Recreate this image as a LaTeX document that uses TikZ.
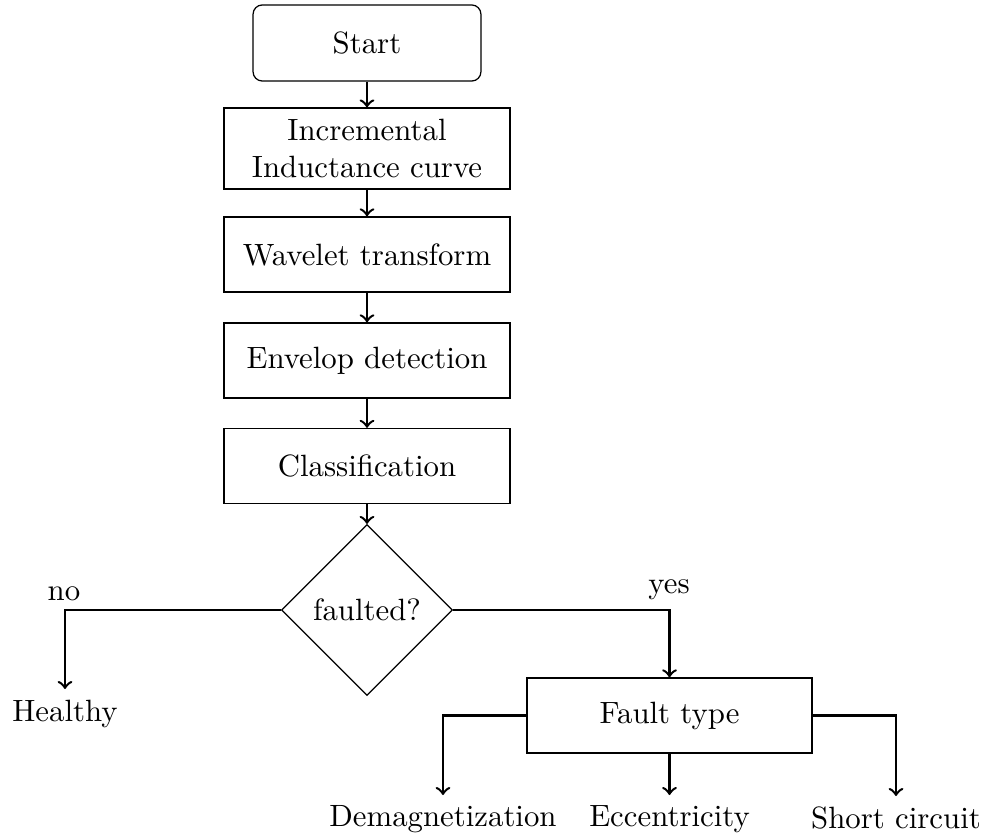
\documentclass[tikz,border=0pt]{standalone}
\usetikzlibrary{shapes.geometric}
\begin{document}
\begin{tikzpicture}[x=0.3247pt, y=-0.3247pt,
  procbox/.style={draw, line width=0.4pt, minimum width=92.9pt, minimum height=24.4pt, inner sep=2pt, align=center},
  startbox/.style={draw, line width=0.4pt, rounded corners=3pt, minimum width=74pt, minimum height=24.7pt},
  decision/.style={draw, line width=0.4pt, diamond, aspect=1, inner sep=0pt, minimum width=55.5pt, minimum height=55.5pt},
  outcome/.style={inner sep=3.33pt},
  flow/.style={->, line width=0.8pt},
  branchlabel/.style={inner sep=0pt}]
\useasboundingbox (0,0) rectangle (985,839);

\node[startbox] (start) at (367,43) {Start};
\node[procbox, minimum height=26.3pt] (incr) at (367,148.5) {Incremental\\Inductance curve};
\node[procbox] (wave) at (367,254.5) {Wavelet transform};
\node[procbox] (env) at (367,360.5) {Envelop detection};
\node[procbox] (cls) at (367,466) {Classification};
\node[decision] (dec) at (367,610) {faulted?};
\node[procbox, minimum width=92.5pt] (fault) at (669.5,715.5) {Fault type};

\node[outcome, anchor=north] (healthy) at (65,689) {Healthy};
\node[outcome, anchor=north] (demag) at (443,795) {Demagnetization};
\node[outcome, anchor=north] (ecc) at (669.5,795) {Eccentricity};
\node[outcome, anchor=north] (short) at (896,796) {Short circuit};

\coordinate (nocorner) at (65,610);
\coordinate (yescorner) at (669.5,610);
\node[branchlabel, anchor=base] (no) at (64,600) {no};
\node[branchlabel, anchor=base] (yes) at (669,593) {yes};

\draw[flow] (start) -- (incr);
\draw[flow] (incr) -- (wave);
\draw[flow] (wave) -- (env);
\draw[flow] (env) -- (cls);
\draw[flow] (cls) -- (dec);
\draw[flow] (dec.west) -- (nocorner) -- (healthy.north);
\draw[flow] (dec.east) -- (yescorner) -- (fault.north);
\draw[flow] (fault.west) -| (demag.north);
\draw[flow] (fault.south) -- (ecc.north);
\draw[flow] (fault.east) -| (short.north);
\end{tikzpicture}
\end{document}
